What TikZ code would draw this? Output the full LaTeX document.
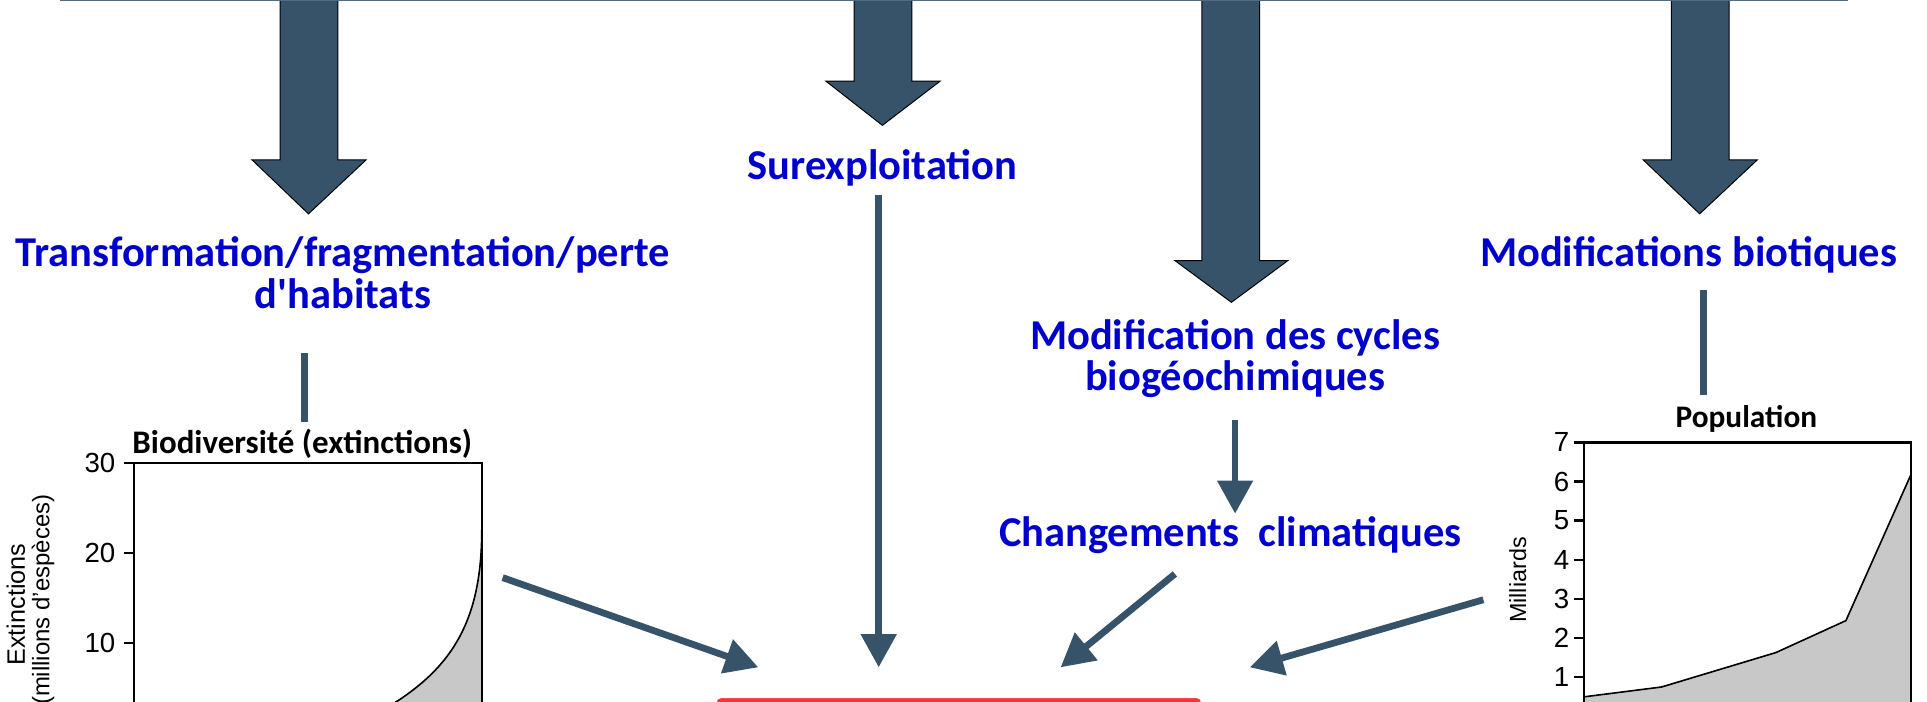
\documentclass[tikz,border=0pt]{standalone}
\usepackage{fontspec}
\setmainfont{Carlito}
\newfontfamily\lblfont{Carlito}
\newfontfamily\axisfont{Liberation Sans}
\usetikzlibrary{arrows.meta}
\definecolor{slate}{RGB}{55,83,106}
\definecolor{lblue}{RGB}{0,0,204}
\definecolor{topline}{RGB}{80,108,135}
\definecolor{boxred}{RGB}{255,51,51}
\definecolor{areagray}{RGB}{200,200,200}
\tikzset{
  bigarrow/.style={fill=slate, draw=black, line width=0.8pt, line join=miter},
  conn/.style={draw=slate, line width=5.5pt},
  arr/.style={conn, -{Triangle[length=27pt,width=28pt]}},
  lbl/.style={text=lblue, font=\lblfont\bfseries\fontsize{34.6}{34.6}\selectfont, inner sep=0pt, anchor=base},
  ctitle/.style={font=\lblfont\bfseries\fontsize{25.5}{26}\selectfont, inner sep=0pt, anchor=base},
  ticklbl/.style={font=\axisfont\fontsize{22.5}{22.5}\selectfont, inner sep=0pt, anchor=east},
  axlbl/.style={font=\axisfont\fontsize{19.5}{20}\selectfont, inner sep=0pt, anchor=center, rotate=90},
  chartframe/.style={draw=black, line width=1.8pt},
  area/.style={fill=areagray},
  curve/.style={draw=black, line width=1.3pt}
}
\begin{document}
\begin{tikzpicture}[x=1pt,y=-1pt]
\useasboundingbox (0,0) rectangle (1568,571);
\clip (0,0) rectangle (1568,571);
\fill[white] (0,0) rectangle (1568,571);

% big block arrows
\draw[bigarrow] (228,-5) -- (228,130) -- (205,130) -- (251,174) -- (298,130) -- (275,130) -- (275,-5) -- cycle;
\draw[bigarrow] (695,-5) -- (695,66) -- (672,66) -- (718,102) -- (765,66) -- (742,66) -- (742,-5) -- cycle;
\draw[bigarrow] (978,-5) -- (978,212) -- (956,212) -- (1002,246) -- (1048,212) -- (1025,212) -- (1025,-5) -- cycle;
\draw[bigarrow] (1360,-5) -- (1360,130) -- (1337,130) -- (1383,174) -- (1430,130) -- (1407,130) -- (1407,-5) -- cycle;

% top border line
\draw[topline, line width=2pt] (49,0) -- (1504,0);

% labels
\node[lbl] (trans1) at (279,217) {Transformation/fragmentation/perte};
\node[lbl] (trans2) at (279,251) {d'habitats};
\node[lbl] (surexp) at (718,146) {Surexploitation};
\node[lbl] (cycles1) at (1005,284) {Modification des cycles};
\node[lbl] (cycles2) at (1005,318) {biogéochimiques};
\node[lbl] (climat) at (1001,445) {Changements~~climatiques};
\node[lbl] (biot) at (1374,217) {Modifications biotiques};

% chart 1: biodiversity
\draw[area] (300,584) .. controls (365,550) and (392,510) .. (392,431) -- (392,600) -- (300,600) -- cycle;
\draw[curve] (300,584) .. controls (365,550) and (392,510) .. (392,431);
\draw[chartframe] (109,620) -- (109,377) -- (392,377) -- (392,620);
\node[ctitle, font=\lblfont\bfseries\fontsize{26.8}{27}\selectfont] (biotitle) at (246,369) {Biodiversité (extinctions)};
\foreach \v/\y in {30/377,20/450,10/523}{
  \draw[black, line width=1.8pt] (101,\y) -- (109,\y);
  \node[ticklbl] at (94,\y) {\v};
}
\node[axlbl, font=\axisfont\fontsize{20.5}{21}\selectfont] (ext1) at (13,492) {Extinctions};
\node[axlbl] (ext2) at (35,488) {(millions d’espèces)};

% chart 2: population
\draw[area] (1289,567) -- (1352,559) -- (1445,531) -- (1502,505) -- (1555,386) -- (1555,600) -- (1289,600) -- cycle;
\draw[curve] (1289,567) -- (1352,559) -- (1445,531) -- (1502,505) -- (1555,386);
\draw[chartframe] (1289,620) -- (1289,360) -- (1555,360) -- (1555,620);
\node[ctitle] (poptitle) at (1421,348) {Population};
\foreach \v in {1,...,7}{
  \pgfmathsetmacro{\yy}{360+(7-\v)*31.8}
  \draw[black, line width=1.8pt] (1281,\yy) -- (1289,\yy);
  \node[ticklbl] at (1277,\yy) {\v};
}
\node[axlbl, font=\axisfont\fontsize{19}{19}\selectfont] (mill) at (1235,472) {Milliards};

% red box at bottom
\node[draw=boxred, fill=boxred, rounded corners=4pt, minimum width=394pt, minimum height=40pt, anchor=north west, inner sep=0pt] (impact) at (583,568) {};

% connector coordinates
\coordinate (transS) at (248,287);
\coordinate (chartAtop) at (248,343);
\coordinate (surS) at (715,159);
\coordinate (surE) at (715,543);
\coordinate (cycS) at (1005,342);
\coordinate (cycE) at (1005,418);
\coordinate (climS) at (956,467);
\coordinate (climE) at (863,543);
\coordinate (chartAout) at (409,470);
\coordinate (chartAE) at (617,543);
\coordinate (biotS) at (1386,236);
\coordinate (chartBtop) at (1386,321);
\coordinate (chartBout) at (1207,488);
\coordinate (chartBE) at (1017,543);

\draw[conn] (transS) -- (chartAtop);
\draw[arr] (surS) -- (surE);
\draw[arr] (cycS) -- (cycE);
\draw[arr] (climS) -- (climE);
\draw[arr] (chartAout) -- (chartAE);
\draw[conn] (biotS) -- (chartBtop);
\draw[arr] (chartBout) -- (chartBE);
\end{tikzpicture}
\end{document}
